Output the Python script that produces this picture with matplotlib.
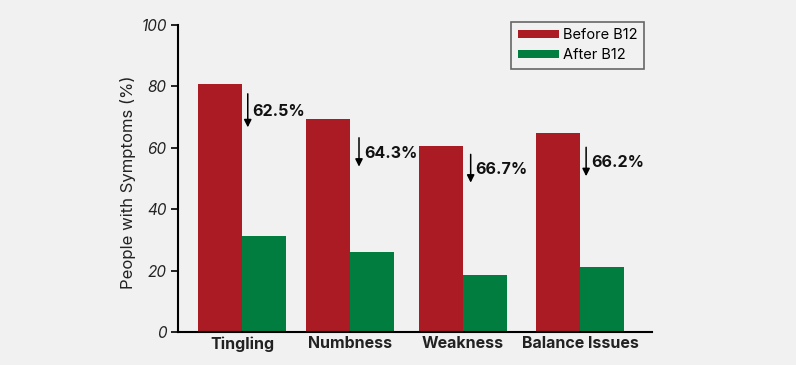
import matplotlib
matplotlib.use("Agg")
import matplotlib.pyplot as plt
import numpy as np

categories = ["Tingling", "Numbness", "Weakness", "Balance Issues"]
before = [80.6, 69.4, 60.5, 64.7]
after = [31.2, 26.0, 18.5, 21.3]
reductions = ["62.5%", "64.3%", "66.7%", "66.2%"]
y_ticks = [0, 20, 40, 60, 80, 100]

# layout (positions only)
group_x = np.array([0.0, 1.0, 2.046, 3.13])
arrow_top = [77.5, 63.2, 57.8, 60.1]
arrow_tip = [66.6, 53.8, 48.6, 50.7]
arrow_dx = [0.053, 0.083, 0.071, 0.056]

RED = "#ab1b24"
GREEN = "#027d40"
BG = "#f1f1f1"

plt.rcParams['font.family'] = ['Inter', 'DejaVu Sans']

fig = plt.figure(figsize=(7.96, 3.65), dpi=100, facecolor=BG)
ax = fig.add_axes([178/796, 1 - 332/365, 474/796, 307.3/365], facecolor=BG)

w = 0.407
ax.bar(group_x - w/2, before, w, color=RED, label="Before B12")
ax.bar(group_x + w/2, after, w, color=GREEN, label="After B12")

for i, r in enumerate(reductions):
    xa = group_x[i] + arrow_dx[i]
    ax.annotate("", xy=(xa, arrow_tip[i]), xytext=(xa, arrow_top[i]),
                arrowprops=dict(arrowstyle="-|>", color="black", lw=1.1,
                                mutation_scale=11, shrinkA=0, shrinkB=0))
    ax.text(xa + 0.045, (arrow_top[i] + arrow_tip[i]) / 2 - 0.3, r,
            fontsize=11.5, fontweight="bold", ha="left", va="center",
            color="#111111")

ax.set_ylim(0, 100)
ax.set_xlim(-0.593, 3.796)
ax.set_yticks(y_ticks)
ax.set_yticklabels([str(t) for t in y_ticks], fontstyle="italic",
                   fontsize=11, color="#222222")
ax.set_xticks(group_x)
ax.set_xticklabels(categories, fontsize=11.5, fontweight="bold", color="#222222")
ax.tick_params(axis="x", length=0, pad=3)
ax.tick_params(axis="y", length=5, width=1.2, direction="out", pad=3)
ax.spines["top"].set_visible(False)
ax.spines["right"].set_visible(False)
ax.spines["left"].set_linewidth(1.5)
ax.spines["bottom"].set_linewidth(1.5)
ax.set_ylabel("People with Symptoms (%)", fontsize=12, color="#222222")
ax.yaxis.set_label_coords(-0.089, 0.487)

leg = ax.legend(loc="upper right", bbox_to_anchor=(0.983, 1.0098),
                borderaxespad=0, fontsize=10.5,
                frameon=True, fancybox=False, edgecolor="#444444", facecolor=BG,
                handlelength=2.8, handleheight=0.55, handletextpad=0.3,
                borderpad=0.45, labelspacing=0.4)
leg.get_frame().set_linewidth(1.2)

fig.savefig("out.png", dpi=100, facecolor=BG)
